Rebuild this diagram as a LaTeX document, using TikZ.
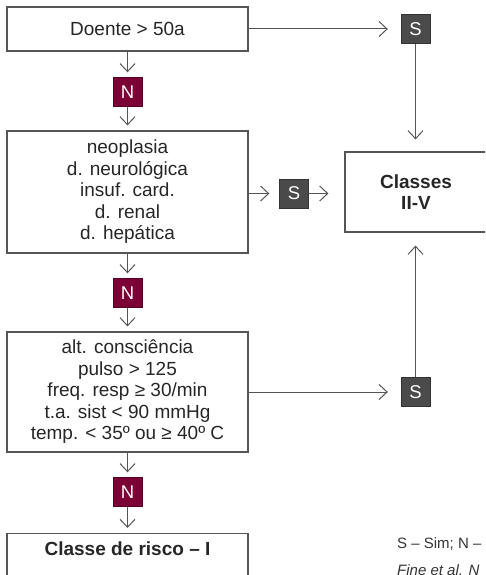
\documentclass[tikz,border=0pt]{standalone}
\usepackage{fontspec}
\setmainfont{Liberation Sans}
\usetikzlibrary{arrows.meta}
\definecolor{sgray}{HTML}{4A4A4A}
\definecolor{nred}{HTML}{7A0035}
\definecolor{edgegray}{HTML}{555555}
\tikzset{
  box/.style={draw=edgegray, line width=1.2pt, align=center, minimum width=241pt, inner sep=0pt, text=black!85, font=\fontsize{19}{21.5}\selectfont},
  sbox/.style={draw=black!80, fill=sgray, text=white, minimum size=29pt, inner sep=0pt, font=\fontsize{18.5}{21.5}\selectfont},
  nbox/.style={sbox, fill=nred, draw=nred!70!black},
  arr/.style={draw=edgegray, line width=1pt, -{Straight Barb[length=8pt,width=15pt]}},
  note/.style={anchor=base west, inner sep=0pt, text=black!80, font=\fontsize{15}{17}\selectfont},
}
\begin{document}
\begin{tikzpicture}[x=1pt, y=-1pt]
		\clip (0,0) rectangle (485,575);
		
		% caixas
		\node[box, minimum height=44pt] (doente) at (127.5,29) {Doente > 50a};
		\node[box, minimum height=122pt] (comorb) at (127.5,192) {neoplasia\\d. neurológica\\insuf. card.\\d. renal\\d. hepática};
		\node[box, minimum height=120pt] (sinais) at (127.5,392) {alt. consciência\\pulso > 125\\freq. resp ≥ 30/min\\t.a. sist < 90 mmHg\\temp. < 35º ou ≥ 40º C};
		\node[box, anchor=north, inner ysep=8pt, text depth=40pt, font=\fontsize{19}{21.5}\selectfont\bfseries] (risco) at (127.5,533) {Classe de risco – I};
		\node[box, minimum width=142pt, minimum height=80pt, font=\fontsize{19}{21.5}\selectfont\bfseries] (classes) at (416,192) {Classes\\II-V};
		
		% S / N
		\node[sbox] (s1) at (415.5,29) {S};
		\node[sbox] (s2) at (294,193.5) {S};
		\node[sbox] (s3) at (415.5,392) {S};
		\node[nbox] (n1) at (127.5,92) {N};
		\node[nbox] (n2) at (127.5,293) {N};
		\node[nbox] (n3) at (127.5,492) {N};
		
		% setas
		\draw[arr, shorten >=13pt] (doente) -- (s1);
		\draw[arr, shorten >=5pt] (doente) -- (n1);
		\draw[arr, shorten >=5pt] (n1) -- (comorb);
		\draw[arr, shorten >=12pt] (s1) -- (s1 |- classes.north);
		\draw[arr, shorten >=10pt] (comorb.east |- s2) -- (s2);
		\draw[arr, shorten >=16pt] (s2) -- (s2 -| classes.west);
		\draw[arr, shorten >=5pt] (comorb) -- (n2);
		\draw[arr, shorten >=5pt] (n2) -- (sinais);
		\draw[arr, shorten >=13pt] (sinais) -- (s3);
		\draw[arr, shorten >=13pt] (s3) -- (s3 |- classes.south);
		\draw[arr, shorten >=5pt] (sinais) -- (n3);
		\draw[arr, shorten >=5pt] (n3) -- (risco);
		
		% legenda
		\node[note] (legenda) at (397,548) {S – Sim; N –};
		\node[note, font=\fontsize{15}{17}\selectfont\itshape] (fonte) at (397,575) {Fine et al. N};
	\end{tikzpicture}
\end{document}
